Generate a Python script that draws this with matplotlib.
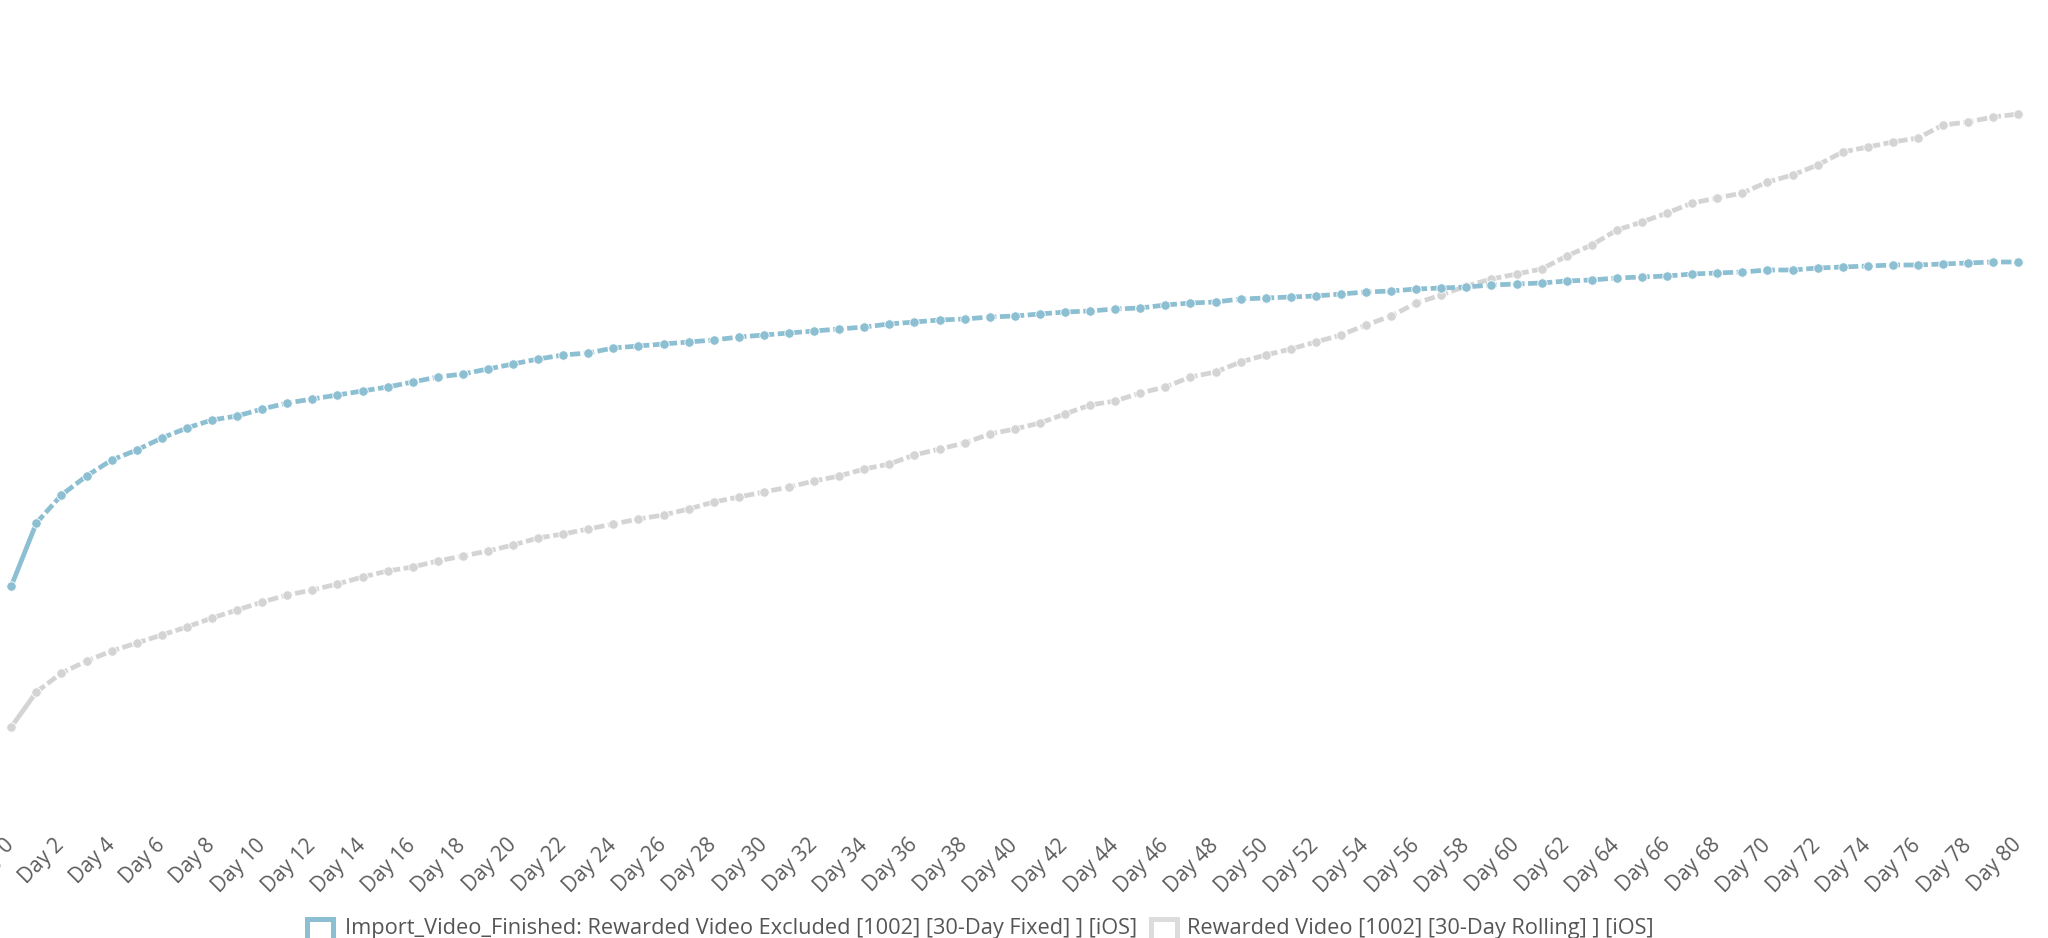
import matplotlib
matplotlib.use("Agg")
import matplotlib.pyplot as plt
from matplotlib.patches import Rectangle

plt.rcParams['font.family'] = ['Open Sans', 'DejaVu Sans']

days = list(range(0, 81))
tick_days = list(range(0, 81, 2))
tick_labels = [f"Day {d}" for d in tick_days]

series_names = [
    "Import_Video_Finished: Rewarded Video Excluded [1002] [30-Day Fixed] ] [iOS]",
    "Rewarded Video [1002] [30-Day Rolling] ] [iOS]",
]

fixed_values = [
    2.34, 2.97, 3.25, 3.44, 3.60, 3.70, 3.82, 3.92, 4.00, 4.04,
    4.11, 4.17, 4.21, 4.25, 4.29, 4.33, 4.38, 4.43, 4.46, 4.51,
    4.56, 4.61, 4.65, 4.67, 4.72, 4.74, 4.76, 4.78, 4.80, 4.83,
    4.85, 4.87, 4.89, 4.91, 4.93, 4.96, 4.98, 5.00, 5.01, 5.03,
    5.04, 5.06, 5.08, 5.09, 5.11, 5.12, 5.15, 5.17, 5.18, 5.21,
    5.22, 5.23, 5.24, 5.26, 5.28, 5.29, 5.31, 5.32, 5.33, 5.35,
    5.36, 5.37, 5.39, 5.40, 5.42, 5.43, 5.44, 5.46, 5.47, 5.48,
    5.50, 5.50, 5.52, 5.53, 5.54, 5.55, 5.55, 5.56, 5.57, 5.58,
    5.58,
]

rolling_values = [
    0.93, 1.28, 1.47, 1.59, 1.69, 1.77, 1.85, 1.93, 2.02, 2.10,
    2.18, 2.25, 2.30, 2.36, 2.43, 2.49, 2.53, 2.59, 2.64, 2.69,
    2.75, 2.82, 2.86, 2.91, 2.96, 3.01, 3.05, 3.11, 3.18, 3.23,
    3.28, 3.33, 3.39, 3.44, 3.51, 3.56, 3.65, 3.71, 3.77, 3.86,
    3.91, 3.97, 4.06, 4.15, 4.19, 4.27, 4.33, 4.43, 4.48, 4.58,
    4.65, 4.71, 4.78, 4.85, 4.95, 5.04, 5.17, 5.25, 5.34, 5.41,
    5.46, 5.51, 5.64, 5.75, 5.90, 5.98, 6.07, 6.17, 6.22, 6.27,
    6.38, 6.45, 6.55, 6.68, 6.73, 6.78, 6.82, 6.95, 6.98, 7.03,
    7.06,
]

colors = ["#8dbfd3", "#d4d4d4"]

W, H = 2048, 938
fig = plt.figure(figsize=(W / 100, H / 100), dpi=100)

left_px, right_px = 11.3, 2018.3
bottom_px = 820
ax = fig.add_axes([left_px / W, (H - bottom_px) / H, (right_px - left_px) / W, bottom_px / H])

for vals, col, z in [(rolling_values, colors[1], 2), (fixed_values, colors[0], 3)]:
    # first segment solid
    ax.plot(days[:2], vals[:2], color=col, lw=3.4, solid_capstyle='butt', zorder=z, clip_on=False)
    ax.plot(days[1:], vals[1:], color=col, lw=3.4, linestyle=(0, (2.2, 0.75)),
            dash_capstyle='butt', zorder=z, clip_on=False)
    ax.plot(days, vals, linestyle='none', marker='o', markersize=6.8, color=col,
            markeredgecolor='white', markeredgewidth=0.6, zorder=z + 0.5, clip_on=False)

ax.set_xlim(0, 80)
ax.set_ylim(0, 8.2)
ax.set_xticks(tick_days)
ax.set_xticklabels(tick_labels, rotation=45, ha='right', va='center',
                   rotation_mode='anchor', fontsize=15, color='#5c5c5c')
ax.tick_params(axis='x', length=0, pad=16)
ax.set_yticks([])
for s in ax.spines.values():
    s.set_visible(False)

# legend (manual, partially cut at bottom like the reference)
def px(x, y):
    return x / W, (H - y) / H

legend_items = [
    (304, 345, series_names[0], colors[0]),
    (1148, 1187, series_names[1], "#dcdcdc"),
]
for bx, tx, label, col in legend_items:
    x0, y0 = px(bx + 2.5, 916 + 2.5 + 31)
    rect = Rectangle((x0, y0), 26 / W, 31 / H, transform=fig.transFigure,
                     facecolor='white', edgecolor=col, linewidth=3.6, clip_on=False)
    fig.patches.append(rect)
    lx, ly = px(tx, 934)
    fig.text(lx, ly, label, fontsize=15.7, color='#555555', ha='left', va='baseline')

fig.savefig("out.png", dpi=100, facecolor='white')
